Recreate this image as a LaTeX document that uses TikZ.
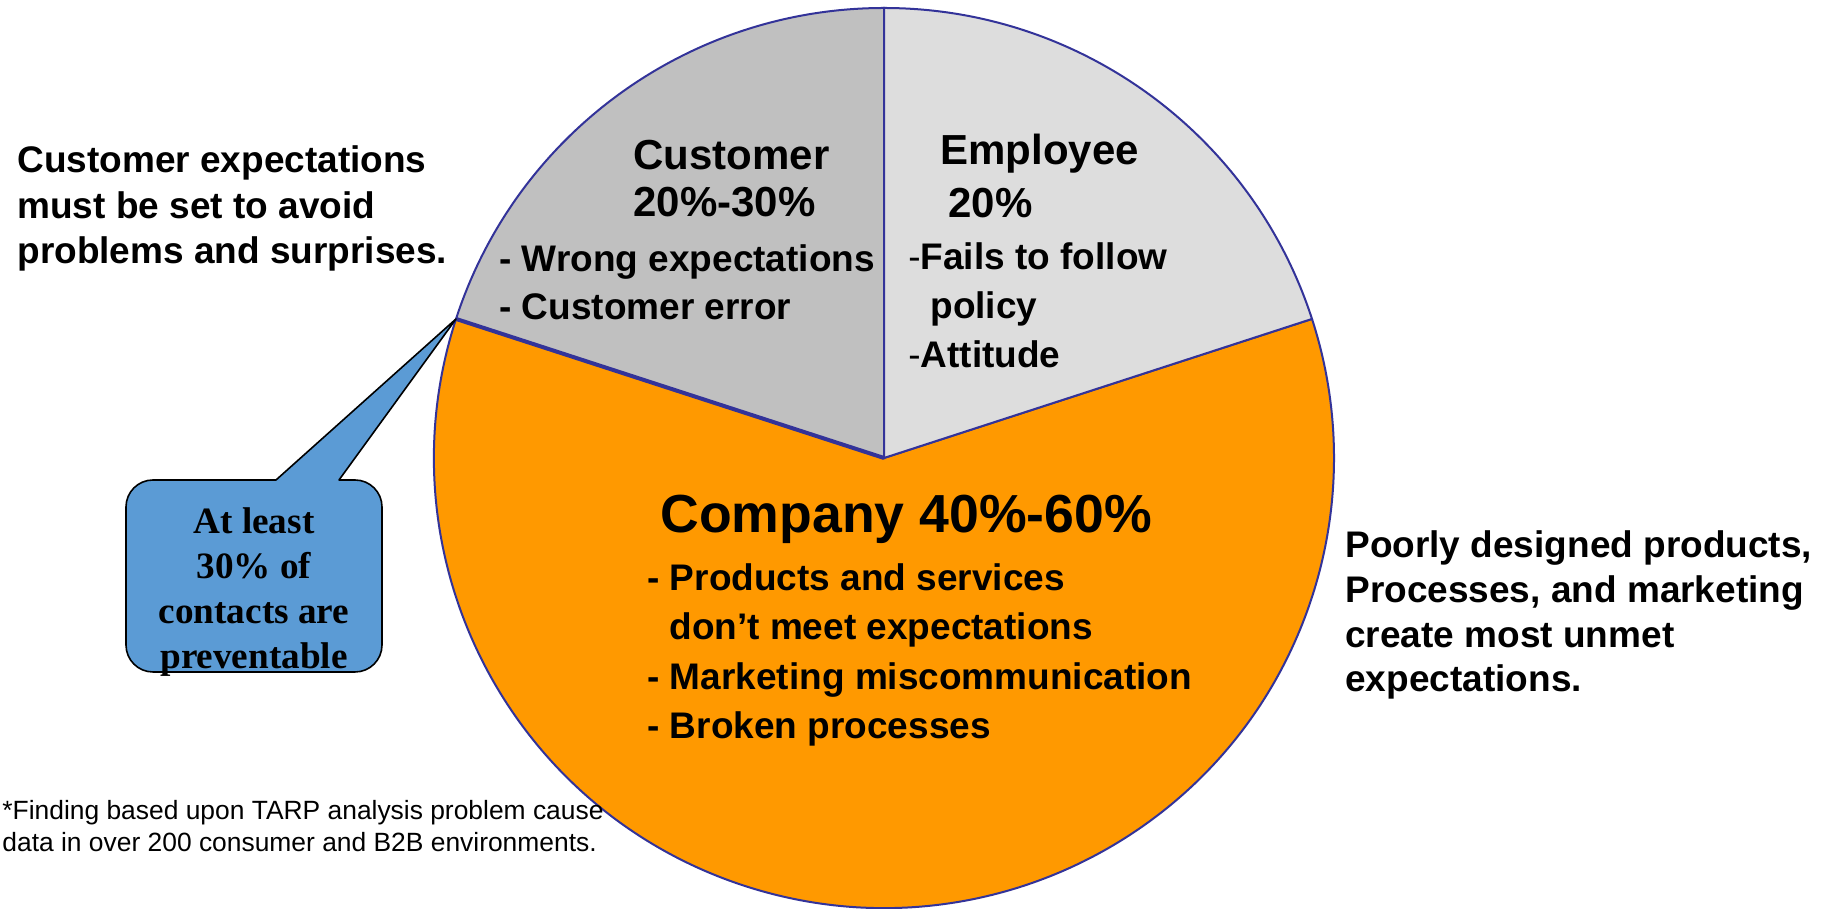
\documentclass[tikz,border=0pt]{standalone}
\usepackage{fontspec}
\setmainfont{Liberation Sans}
\newfontfamily\calloutfont{Liberation Serif}
\usetikzlibrary{positioning}
\definecolor{custgray}{RGB}{192,192,192}
\definecolor{empgray}{RGB}{221,221,221}
\definecolor{comporange}{RGB}{255,153,0}
\definecolor{pieline}{RGB}{51,51,153}
\definecolor{calloutblue}{RGB}{91,155,213}
\tikzset{slice/.style={draw=pieline,line width=1pt},
  callout/.style={draw=black,fill=calloutblue,line width=0.8pt,line join=round},
}

\begin{document}
\begin{tikzpicture}[x=0.5pt,y=0.5pt,
    note/.style={anchor=base west,align=left,inner sep=0pt,font=\bfseries\fontsize{18.5}{22.75}\selectfont},
    head/.style={anchor=base west,align=left,inner sep=0pt,font=\bfseries\fontsize{21}{24.5}\selectfont},
    bullets/.style={anchor=base west,align=left,inner sep=0pt,font=\bfseries\fontsize{18.5}{24.5}\selectfont}]

    \useasboundingbox (0,0) rectangle (1824,909);
    \coordinate (c) at (884,451);

    % pie
    \filldraw[slice,fill=comporange] (c) -- ++(162:450) arc[start angle=162,end angle=378,radius=450] -- cycle;
    \filldraw[slice,fill=custgray] (c) -- ++(90:450) arc[start angle=90,end angle=162,radius=450] -- cycle;
    \filldraw[slice,fill=empgray] (c) -- ++(18:450) arc[start angle=18,end angle=90,radius=450] -- cycle;
    \path (c) ++(162:450) coordinate (edgeL);
    \draw[pieline,line width=2pt] (c) -- (edgeL);

    % callout
    \coordinate (baseL) at (276,429);
    \coordinate (baseR) at (339,429);
    \draw[callout] (baseL) -- (edgeL) -- (baseR) -- (355,429)
        arc[start angle=90,end angle=0,radius=27] -- (382,264)
        arc[start angle=0,end angle=-90,radius=27] -- (153,237)
        arc[start angle=270,end angle=180,radius=27] -- (126,402)
        arc[start angle=180,end angle=90,radius=27] -- cycle;
    \node[align=center,anchor=base,inner sep=0pt,
        font=\calloutfont\bfseries\fontsize{18.6}{22.5}\selectfont] (prevent) at (254,240)
        {At least\\30\% of\\contacts are\\preventable};

    % labels (anchored at the last line)
    \node[note] (expect) at (17,645) {Customer expectations\\must be set to avoid\\problems and surprises.};
    \node[head,font=\bfseries\fontsize{21}{23.5}\selectfont] (custhead) at (633,692) {Customer\\20\%-30\%};
    \node[bullets,font=\bfseries\fontsize{18.5}{24}\selectfont] (custlist) at (499,589) {- Wrong expectations\\- Customer error};
    \node[head,font=\bfseries\fontsize{21}{26.5}\selectfont] (emphead) at (940,691) {Employee\\\hspace{4pt}20\%};
    \node[bullets] (emplist) at (908,541) {{\mdseries -}Fails to follow\\\hspace{11pt}policy\\{\mdseries -}Attitude};
    \node[anchor=base west,inner sep=0pt,font=\bfseries\fontsize{26.8}{30}\selectfont] (comphead) at (660,376) {Company 40\%-60\%};
    \node[bullets,font=\bfseries\fontsize{18.5}{24.75}\selectfont] (complist) at (647,170)
        {- Products and services\\\hspace{11pt}don’t meet expectations\\- Marketing miscommunication\\- Broken processes};
    \node[note,font=\bfseries\fontsize{18.5}{22.35}\selectfont] (poorly) at (1345,217)
        {Poorly designed products,\\Processes, and marketing\\create most unmet\\expectations.};
    \node[anchor=base west,align=left,inner sep=0pt,font=\fontsize{13.2}{16}\selectfont] (foot) at (2,57)
        {*Finding based upon TARP analysis problem cause\\data in over 200 consumer and B2B environments.};
\end{tikzpicture}
\end{document}
